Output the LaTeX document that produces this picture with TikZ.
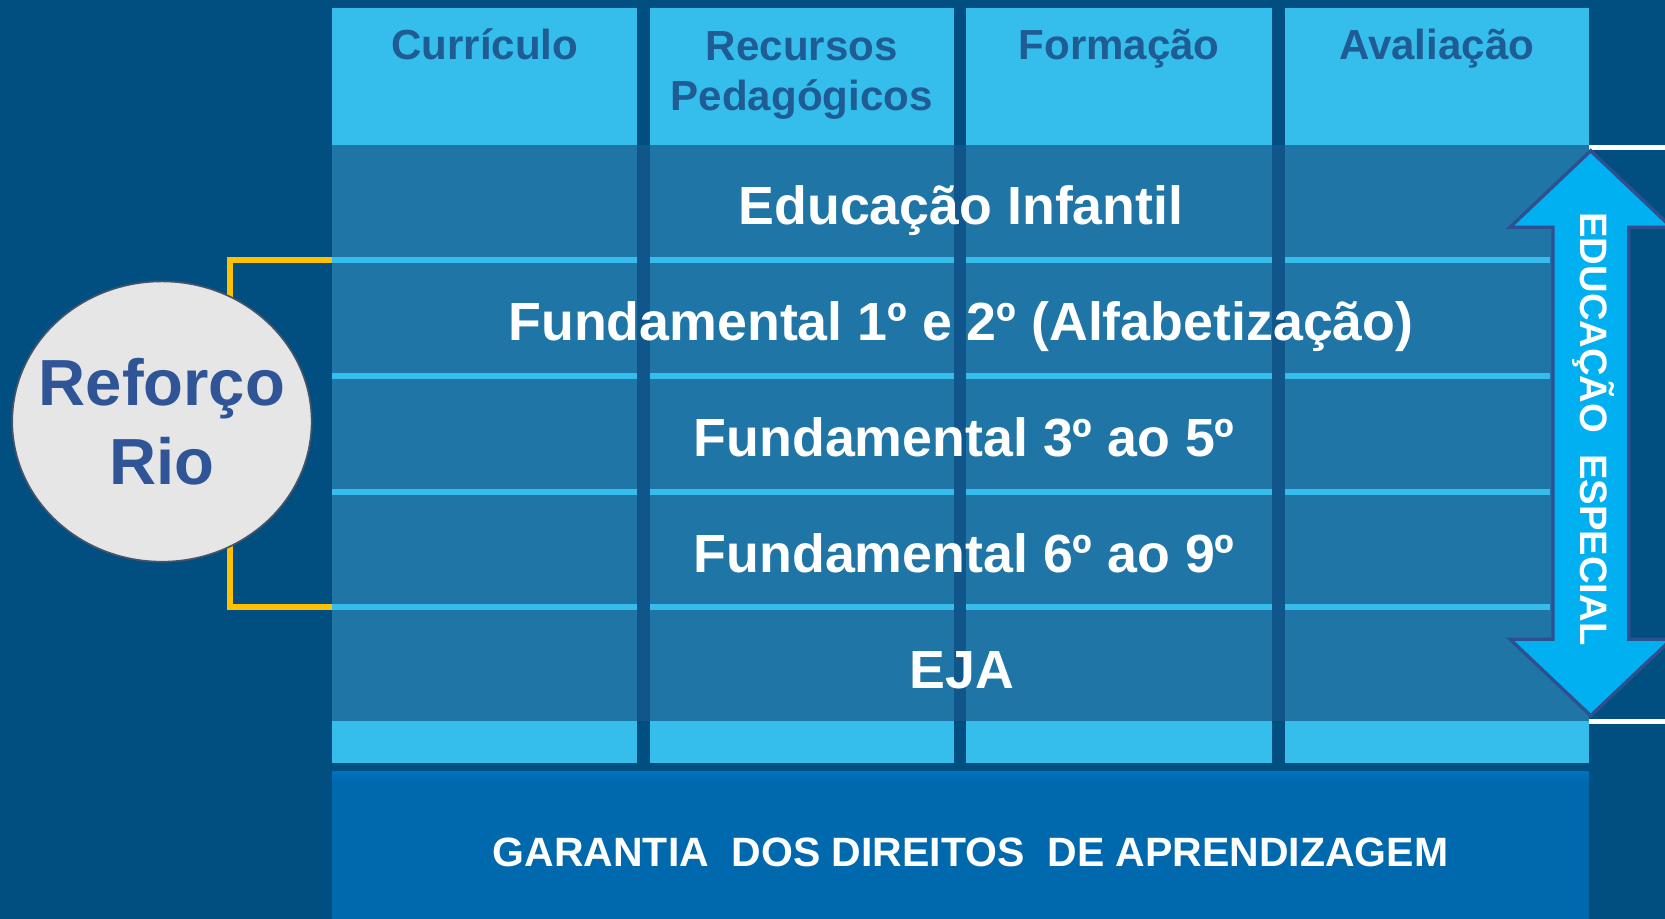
\documentclass[tikz,border=0pt]{standalone}
\usepackage{fontspec}
\setmainfont{Liberation Sans}
\usetikzlibrary{shapes.geometric}
\definecolor{bg}{RGB}{0,79,128}
\definecolor{cyanc}{RGB}{53,189,235}
\definecolor{rowblue}{RGB}{31,118,166}
\definecolor{stripe}{RGB}{17,86,138}
\definecolor{hdrblue}{RGB}{30,92,147}
\definecolor{garblue}{RGB}{0,104,173}
\definecolor{garlight}{RGB}{0,114,190}
\definecolor{ybr}{RGB}{255,192,0}
\definecolor{circfill}{RGB}{230,230,230}
\definecolor{circborder}{RGB}{68,84,106}
\definecolor{circtext}{RGB}{47,85,151}
\definecolor{arrowfill}{RGB}{0,176,240}
\definecolor{arrowborder}{RGB}{46,80,145}
\begin{document}
\begin{tikzpicture}[x=0.5pt,y=-0.5pt,
  hdr/.style={font=\fontsize{19.8}{23.5}\selectfont\bfseries, text=hdrblue, align=center, anchor=base, inner sep=0pt},
  rowtxt/.style={font=\fontsize{25.3}{28}\selectfont\bfseries, text=white, anchor=base, inner sep=0pt},
  colbox/.style={fill=cyanc},
  sepline/.style={fill=cyanc},
  gapstripe/.style={fill=stripe}]
\fill[bg] (0,0) rectangle (1568,865);
\useasboundingbox (0,0) rectangle (1568,865);
% columns
\foreach \a/\b in {313/600,612/898,910/1198,1210/1496}
  \fill[colbox] (\a,8) rectangle (\b,719);
% row band
\fill[rowblue] (313,137) rectangle (1496,679);
% separators
\foreach \y in {244.5,354,463,572}{
  \foreach \a/\b in {313/600,612/898,910/1198,1210/1460}
    \fill[sepline] (\a,\y-2.8) rectangle (\b,\y+2.8);
}
% gap stripes through rows
\foreach \a/\b in {600/612,898/910,1198/1210}
  \fill[gapstripe] (\a,137) rectangle (\b,679);
% headers
\node[hdr] (h1) at (456.5,56.5) {Currículo};
\node[hdr] (h2) at (755,103.6) {Recursos\\Pedagógicos};
\node[hdr] (h3) at (1054,56.5) {Formação};
\node[hdr] (h4) at (1353,56.5) {Avaliação};
% rows
\node[rowtxt] (r1) at (905,211) {Educação Infantil};
\node[rowtxt] (r2) at (905,320.5) {Fundamental 1º e 2º (Alfabetização)};
\node[rowtxt] (r3) at (908,429.5) {Fundamental 3º ao 5º};
\node[rowtxt] (r4) at (908,539.5) {Fundamental 6º ao 9º};
\node[rowtxt] (r5) at (906,648) {EJA};
% garantia
\fill[garblue] (313,727) rectangle (1496,865);
\shade[top color=garlight, bottom color=garblue] (313,727) rectangle (1496,737);
\node[font=\fontsize{19.3}{23}\selectfont\bfseries, text=white, anchor=base, inner sep=0pt] (gar) at (914,816) {GARANTIA\ \ DOS DIREITOS\ \ DE APRENDIZAGEM};
% white lines
\coordinate (wt1) at (1496,139);
\coordinate (wt2) at (1568,139);
\coordinate (wb1) at (1496,679.5);
\coordinate (wb2) at (1568,679.5);
\draw[white, line width=2pt] (wt1) -- (wt2);
\draw[white, line width=2pt] (wb1) -- (wb2);
% double arrow
\coordinate (at) at (1498,142);
\coordinate (ab) at (1498,674);
\draw[fill=arrowfill, draw=arrowborder, line width=1.6pt, line join=miter]
  (at) -- (1574,214) -- (1534,214) -- (1534,602) -- (1574,602) -- (ab)
  -- (1422,602) -- (1462.5,602) -- (1462.5,214) -- (1422,214) -- cycle;
\node[font=\fontsize{18}{20}\selectfont\bfseries, text=white, rotate=-90, anchor=base, inner sep=0pt] (esp) at (1488,404) {EDUCAÇÃO\ \ ESPECIAL};
% bracket
\coordinate (bt) at (313,244.5);
\coordinate (bb) at (313,572);
\draw[ybr, line width=2.75pt, line join=miter] (bt) -- ++(-96.4,0) |- (bb);
% circle
\node[ellipse, draw=circborder, line width=0.8pt, fill=circfill, minimum width=141pt, minimum height=132pt, inner sep=0pt] (ref) at (152.5,397) {};
\node[font=\fontsize{30.7}{36.9}\selectfont\bfseries, text=circtext, align=center, inner sep=0pt] (reftxt) at (ref.center) {Reforço\\Rio};
\end{tikzpicture}
\end{document}
